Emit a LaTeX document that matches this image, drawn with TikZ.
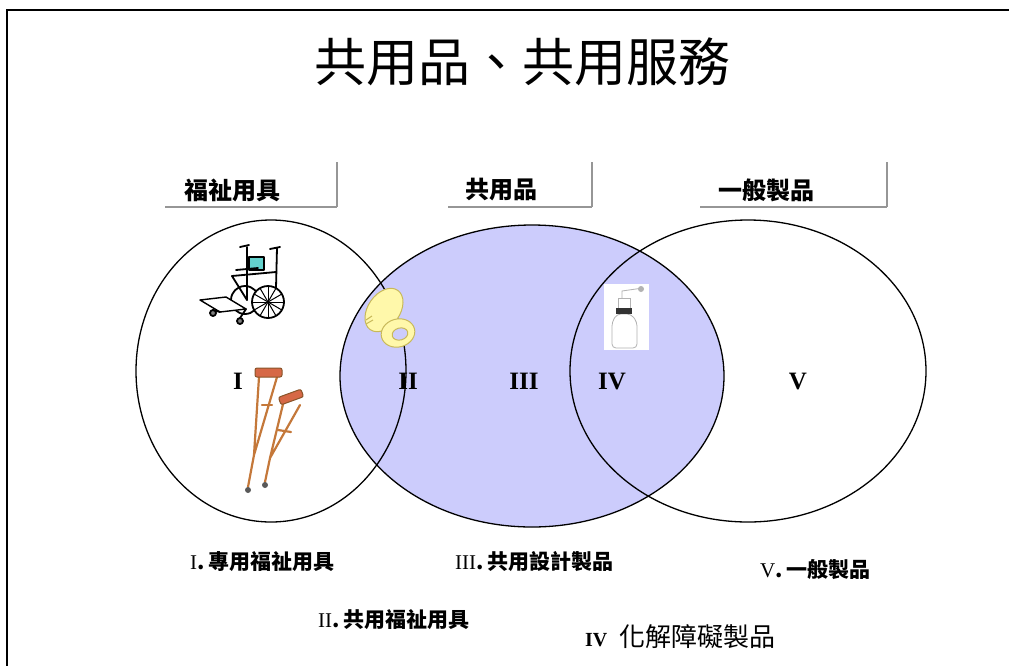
\documentclass[tikz,border=0pt]{standalone}
\usepackage{fontspec}
\setmainfont{Liberation Serif}
\newfontfamily\cjk{Noto Sans CJK TC}
\usetikzlibrary{shapes.geometric}
\definecolor{lav}{RGB}{204,204,252}
\definecolor{boxshade}{RGB}{150,150,150}
\definecolor{crutchwood}{RGB}{196,120,58}
\definecolor{crutchpad}{RGB}{214,104,70}
\definecolor{seatyellow}{RGB}{255,248,170}
\definecolor{seatedge}{RGB}{200,185,90}
\definecolor{teal}{RGB}{100,210,205}
% serif numeral inside a caption
\newcommand\capnum[1]{{\rmfamily\mdseries\fontsize{21}{21}\selectfont #1}}
\tikzset{
  venn/.style={ellipse, draw=black, line width=1.3pt, inner sep=0pt},
  header/.style={font=\cjk\bfseries\fontsize{24}{24}\selectfont, inner sep=0pt},
  headline/.style={boxshade, line width=2.6pt},
  headside/.style={boxshade, line width=1.2pt},
  roman/.style={font=\bfseries\fontsize{25}{25}\selectfont, inner sep=0pt},
  caption/.style={font=\cjk\bfseries\fontsize{21}{21}\selectfont, anchor=west, inner sep=0pt},
}
\begin{document}
\begin{tikzpicture}[x=1pt,y=-1pt]
\useasboundingbox (0,0) rectangle (1009,665);
% page frame
\draw[line width=2pt] (7,700) -- (7,9.5) -- (1020,9.5);

% title
\node[font=\cjk\fontsize{52}{52}\selectfont, inner sep=0pt] (title) at (522,62) {共用品、共用服務};

% category headers with shaded edges
\node[header] (h1) at (232,190) {福祉用具};
\coordinate (h1a) at (165,207); \coordinate (h1b) at (337,207); \coordinate (h1c) at (337,162);
\draw[headline] (h1a) -- (h1b);
\draw[headside] (h1b) -- (h1c);
\node[header] (h2) at (501,190) {共用品};
\coordinate (h2a) at (448,207); \coordinate (h2b) at (592,207); \coordinate (h2c) at (592,162);
\draw[headline] (h2a) -- (h2b);
\draw[headside] (h2b) -- (h2c);
\node[header] (h3) at (766,190) {一般製品};
\coordinate (h3a) at (700,207); \coordinate (h3b) at (887,207); \coordinate (h3c) at (887,162);
\draw[headline] (h3a) -- (h3b);
\draw[headside] (h3b) -- (h3c);

% the three sets
\node[venn, fill=lav, minimum width=384pt, minimum height=302pt] (mid) at (532,376) {};
\node[venn, minimum width=270pt, minimum height=302pt] (left) at (271,371) {};
\node[venn, minimum width=356pt, minimum height=302pt] (right) at (748,371) {};

% region numerals
\node[roman] (r1) at (238,381) {I};
\node[roman] (r2) at (408,381) {II};
\node[roman] (r3) at (524,381) {III};
\node[roman] (r4) at (612,381) {IV};
\node[roman] (r5) at (798,381) {V};

% wheelchair
\begin{scope}[line width=1.8pt, line cap=round, line join=round]
  \draw[fill=white] (245,300) circle (14);
  \draw[fill=teal] (249,257) rectangle (264,270);
  \draw (247,247) -- (247,300);
  \draw (277,248) -- (276,288);
  \draw (240,247) -- (249,245);
  \draw (270,249) -- (280,247);
  \draw (232,276) -- (276,272);
  \draw (232,276) -- (247,300);
  \draw (236,270) -- (258,268);
  \draw[fill=white] (268,302) circle (16);
  \foreach \a in {0,30,...,330} \draw[line width=1pt] (268,302) -- ++(\a:15);
  \draw[fill=white, line width=1.4pt] (200,300) -- (226,297) -- (246,309) -- (220,312) -- cycle;
  \draw[fill=gray] (213,313) circle (3);
  \draw[fill=gray] (240,321) circle (3);
  \draw (220,312) -- (213,310);
  \draw (246,309) -- (240,318);
\end{scope}

% raised toilet seat
\begin{scope}[draw=seatedge, line width=1pt]
  \draw[fill=seatyellow, rotate around={-35:(384,310)}] (384,310) ellipse (16 and 24);
  \draw[fill=seatyellow, rotate around={15:(398,333)}] (398,333) ellipse (17 and 14);
  \draw[fill=lav, rotate around={15:(400,334)}] (400,334) ellipse (8 and 6);
  \draw (366,320) -- (372,316) (366,324) -- (373,320);
\end{scope}

% crutches
\begin{scope}[draw=crutchwood, line width=2.2pt, line cap=round]
  \draw (259,377) -- (254,455) (277,377) -- (254,455) -- (248,487);
  \draw (262,405) -- (272,405);
  \draw (284,400) -- (270,458) (300,405) -- (270,458) -- (265,482);
  \draw (278,430) -- (291,432);
  \draw[fill=crutchpad, draw=crutchwood!70!black, line width=1pt, rounded corners=2pt] (255,368) rectangle (282,377);
  \draw[fill=crutchpad, draw=crutchwood!70!black, line width=1pt, rounded corners=2pt, rotate around={20:(291,397)}] (279,393) rectangle (303,401);
  \fill[gray!70!black] (248,490) circle (3);
  \fill[gray!70!black] (265,485) circle (3);
\end{scope}

% pump bottle
\fill[white] (604,284) rectangle (649,350);
\begin{scope}[draw=gray!60, line width=0.8pt]
  \draw[rounded corners=4pt] (612,348) -- (612,322) -- (617,314) -- (631,314) -- (637,322) -- (637,348) -- cycle;
  \draw (618,298) rectangle (630,308);
  \draw (622,298) -- (622,291) -- (643,288);
  \fill[gray!60] (641,289) circle (3);
\end{scope}
\fill[gray!40!black] (616,308) rectangle (632,314);

% captions
\node[caption] (c1) at (190,562) {\capnum{I}.\,專用福祉用具};
\node[caption] (c3) at (455,562) {\capnum{III}.\,共用設計製品};
\node[caption] (c5) at (760,570) {\capnum{V}.\,一般製品};
\node[caption] (c2) at (318,620) {\capnum{II}.\,共用福祉用具};
\node[caption, font=\cjk\fontsize{26}{26}\selectfont] (c4) at (585,637) {{\rmfamily\bfseries\fontsize{20}{20}\selectfont IV}\hspace{12pt}化解障礙製品};
\end{tikzpicture}
\end{document}
